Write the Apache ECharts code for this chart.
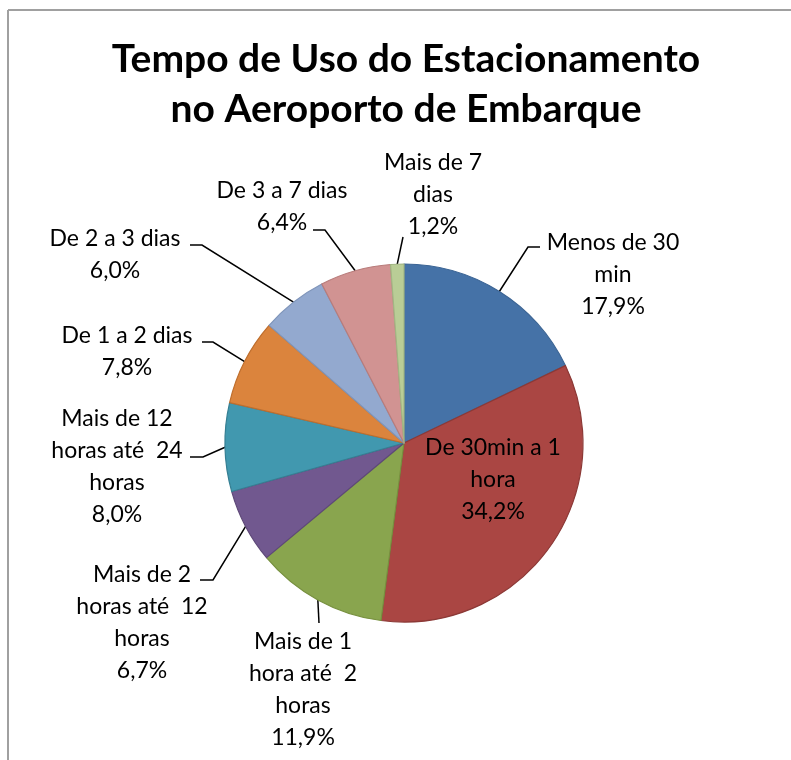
<!DOCTYPE html>
<html>
<head>
<meta charset="utf-8">
<title>Tempo de Uso do Estacionamento</title>
<script src="https://cdn.jsdelivr.net/npm/echarts@6/dist/echarts.min.js"></script>
<style>
  html, body { margin: 0; padding: 0; background: #ffffff; }
  #chart { width: 791px; height: 760px; }
</style>
</head>
<body>
<div id="chart"></div>
<script>
// Parking duration categories (label text wraps as drawn)
const categories = [
  'Menos de 30\nmin',
  'De 30min a 1\nhora',
  'Mais de 1\nhora até  2\nhoras',
  'Mais de 2\nhoras até  12\nhoras',
  'Mais de 12\nhoras até  24\nhoras',
  'De 1 a 2 dias',
  'De 2 a 3 dias',
  'De 3 a 7 dias',
  'Mais de 7\ndias'
];
// Share of users per category, in percent
const shares = [17.9, 34.2, 11.9, 6.7, 8.0, 7.8, 6.0, 6.4, 1.2];

const fills = ['#4572A7', '#AA4643', '#89A54E', '#71588F', '#4198AF',
               '#DB843D', '#93A9CF', '#D19392', '#B9CD96'];
const edges = ['#3B6494', '#8C3936', '#77903F', '#5E4878', '#357F93',
               '#BF6E2D', '#7F95BA', '#B87C7B', '#A2B683'];

const FONT = 'Lato, "Open Sans", sans-serif';

// Label anchors and leader-line bends, in pixels
const labelSpots = [
  { x: 613, y: 275, bend: [[528, 247], [540, 247]] },
  { x: 493, y: 480, bend: null },
  { x: 303, y: 690, bend: [[319, 623]] },
  { x: 142, y: 623, bend: [[213, 580], [200, 580]] },
  { x: 117, y: 467, bend: [[203, 457], [190, 457]] },
  { x: 127, y: 352, bend: [[213, 342], [202, 342]] },
  { x: 115, y: 255, bend: [[202, 245], [190, 245]] },
  { x: 282, y: 207, bend: [[325, 230], [313, 230]] },
  { x: 433, y: 195, bend: [[403, 237]] }
];

const CX = 404, CY = 443, R = 179;
const total = shares.reduce((a, b) => a + b, 0);

// Point on the rim at the middle of slice i (clockwise from 12 o'clock)
function rimPoint(i) {
  let before = 0;
  for (let k = 0; k < i; k++) before += shares[k];
  const mid = (before + shares[i] / 2) / total * 2 * Math.PI;
  return [CX + R * Math.sin(mid), CY - R * Math.cos(mid)];
}

const chart = echarts.init(document.getElementById('chart'), null, { renderer: 'canvas' });

chart.setOption({
  backgroundColor: '#ffffff',
  animation: false,
  title: {
    text: 'Tempo de Uso do Estacionamento\nno Aeroporto de Embarque',
    left: 401,
    top: 29,
    textAlign: 'center',
    textStyle: {
      fontFamily: FONT,
      fontWeight: 'bold',
      fontSize: 39,
      lineHeight: 50,
      color: '#000000'
    }
  },
  graphic: [
    { type: 'line', shape: { x1: 8, y1: 10, x2: 791, y2: 10 },
      style: { stroke: '#a0a0a0', lineWidth: 2 }, silent: true },
    { type: 'line', shape: { x1: 8, y1: 10, x2: 8, y2: 760 },
      style: { stroke: '#a0a0a0', lineWidth: 2 }, silent: true }
  ],
  series: [{
    type: 'pie',
    center: [CX, CY],
    radius: R,
    startAngle: 90,
    clockwise: true,
    avoidLabelOverlap: false,
    label: {
      show: true,
      position: 'outside',
      fontFamily: FONT,
      fontSize: 23,
      lineHeight: 32,
      color: '#000000',
      align: 'center',
      formatter: p => p.name + '\n' + p.value.toFixed(1).replace('.', ',') + '%'
    },
    labelLine: {
      show: true,
      lineStyle: { color: '#000000', width: 1.5 }
    },
    labelLayout: function (params) {
      const i = params.dataIndex;
      const spot = labelSpots[i];
      const out = { x: spot.x, y: spot.y, align: 'center', verticalAlign: 'middle' };
      if (spot.bend) {
        out.labelLinePoints = [rimPoint(i)].concat(spot.bend);
      }
      return out;
    },
    emphasis: { disabled: true },
    data: shares.map((v, i) => ({
      name: categories[i],
      value: v,
      itemStyle: { color: fills[i], borderColor: edges[i], borderWidth: 1.2 },
      labelLine: { show: i !== 1 }
    }))
  }]
});
</script>
</body>
</html>
